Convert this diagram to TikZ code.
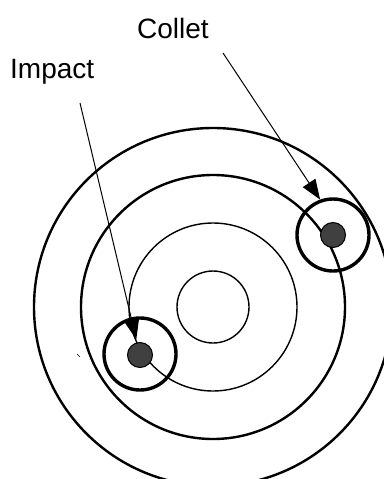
\documentclass[tikz,border=0pt]{standalone}
\usepackage{fontspec}
\setmainfont{Liberation Sans}
\usetikzlibrary{arrows.meta}

\begin{document}
\begin{tikzpicture}[x=1pt, y=-1pt,
    band/.style={circle, draw, inner sep=0pt, line width=2.4pt},
    thinband/.style={circle, draw, inner sep=0pt, line width=1.4pt},
    ring/.style={circle, draw, inner sep=0pt, line width=3.4pt, minimum size=72pt},
    dot/.style={circle, draw, fill=black!75, inner sep=0pt, line width=1pt, minimum size=25pt},
    lbl/.style={inner sep=0pt, anchor=base west, font=\fontsize{28}{30}\selectfont},
    pointer/.style={-{Triangle[length=20pt, width=15pt]}, line width=1pt}
]
\useasboundingbox (0,0) rectangle (383,479);

% target rings
\node[band, minimum size=358pt] (outer) at (213,307) {};
\node[band, minimum size=264pt] (second) at (213,307) {};
\node[thinband, minimum size=168pt] (third) at (213,307) {};
\node[thinband, minimum size=72pt] (bull) at (213,307) {};

% impact and collet marks
\node[ring] (impactring) at (140,354) {};
\node[dot] (impactdot) at (140,355) {};
\node[ring] (colletring) at (333,235) {};
\node[dot] (colletdot) at (333,235) {};

% labels
\node[lbl] (impact) at (10,78) {Impact};
\node[lbl] (collet) at (137,38) {Collet};

\coordinate (impactstart) at (80,103);
\coordinate (colletstart) at (223,53);
\draw[pointer, shorten >=3pt] (impactstart) -- (impactdot);
\draw[pointer] (colletstart) -- (colletring.110);

% stray mark
\draw[line width=0.6pt] (77,354) -- (80,357);

\end{tikzpicture}
\end{document}
